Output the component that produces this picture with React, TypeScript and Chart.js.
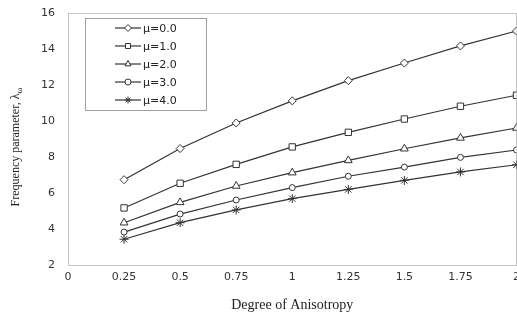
import React, { useEffect, useRef } from "react";
import { Chart, registerables } from "chart.js";

Chart.register(...registerables);

const xValues = [0.25, 0.5, 0.75, 1, 1.25, 1.5, 1.75, 2];
const xTicks = [0, 0.25, 0.5, 0.75, 1, 1.25, 1.5, 1.75, 2];
const seriesLabels = ["μ=0.0", "μ=1.0", "μ=2.0", "μ=3.0", "μ=4.0"];
const mu0 = [6.74, 8.47, 9.89, 11.12, 12.24, 13.22, 14.17, 15.0];
const mu1 = [5.17, 6.54, 7.59, 8.56, 9.37, 10.11, 10.82, 11.43];
const mu2 = [4.35, 5.48, 6.39, 7.13, 7.81, 8.46, 9.06, 9.61];
const mu3 = [3.83, 4.83, 5.61, 6.3, 6.93, 7.44, 7.98, 8.39];
const mu4 = [3.43, 4.35, 5.06, 5.69, 6.2, 6.7, 7.17, 7.57];
const xTitle = "Degree of Anisotropy";
const yTitle = "Frequency parameter, λ";
const yTitleSub = "ω";

const seriesValues = [mu0, mu1, mu2, mu3, mu4];
const pointStyles = ["rectRot", "rect", "triangle", "circle", "star"];
const pointRadii = [4, 4.5, 4.5, 3, 4.5];
const LINE = "#333333";
const CANVAS_W = 522;

function drawMarker(ctx: CanvasRenderingContext2D, style: string, x: number, y: number, r: number) {
  ctx.save();
  ctx.beginPath();
  if (style === "rectRot") {
    ctx.moveTo(x, y - r);
    ctx.lineTo(x + r, y);
    ctx.lineTo(x, y + r);
    ctx.lineTo(x - r, y);
    ctx.closePath();
  } else if (style === "rect") {
    const s = r * Math.SQRT1_2;
    ctx.rect(x - s, y - s, 2 * s, 2 * s);
  } else if (style === "triangle") {
    ctx.moveTo(x, y - r);
    ctx.lineTo(x + r * 0.866, y + r * 0.5);
    ctx.lineTo(x - r * 0.866, y + r * 0.5);
    ctx.closePath();
  } else if (style === "circle") {
    ctx.arc(x, y, r, 0, Math.PI * 2);
  }
  if (style === "star") {
    for (let i = 0; i < 4; i++) {
      const a = (i * Math.PI) / 4;
      ctx.moveTo(x - Math.cos(a) * r, y - Math.sin(a) * r);
      ctx.lineTo(x + Math.cos(a) * r, y + Math.sin(a) * r);
    }
    ctx.stroke();
  } else {
    ctx.fillStyle = "#ffffff";
    ctx.fill();
    ctx.stroke();
  }
  ctx.restore();
}

const decorPlugin = {
  id: "decor",
  beforeDatasetsDraw(chart: any) {
    const { ctx, chartArea } = chart;
    ctx.save();
    ctx.strokeStyle = "#c4c4c4";
    ctx.lineWidth = 1;
    const l = Math.round(chartArea.left) + 0.5;
    const r = Math.round(chartArea.right) - 0.5;
    const t = Math.round(chartArea.top) + 0.5;
    const b = Math.round(chartArea.bottom) + 0.5;
    ctx.strokeRect(l, t, r - l, b - t);
    ctx.restore();
  },
  afterDraw(chart: any) {
    const { ctx, chartArea } = chart;
    ctx.save();
    ctx.fillStyle = "#222222";
    ctx.font = "14px 'Liberation Serif'";
    ctx.textAlign = "center";
    ctx.textBaseline = "middle";
    ctx.fillText(xTitle, (chartArea.left + chartArea.right) / 2, 305);
    ctx.translate(15, 147);
    ctx.rotate(-Math.PI / 2);
    ctx.font = "12px 'Liberation Serif'";
    const w1 = ctx.measureText(yTitle).width;
    ctx.font = "9px 'Liberation Serif'";
    const w2 = ctx.measureText(yTitleSub).width;
    const start = -(w1 + w2) / 2;
    ctx.textAlign = "left";
    ctx.textBaseline = "alphabetic";
    ctx.font = "12px 'Liberation Serif'";
    ctx.fillText(yTitle, start, 4);
    ctx.font = "9px 'Liberation Serif'";
    ctx.fillText(yTitleSub, start + w1, 7);
    ctx.restore();

    ctx.save();
    ctx.strokeStyle = "#a0a0a0";
    ctx.lineWidth = 1;
    ctx.strokeRect(85.5, 18.5, 121, 92);
    ctx.font = "11px 'DejaVu Sans'";
    ctx.textBaseline = "middle";
    ctx.textAlign = "left";
    seriesLabels.forEach((lab, i) => {
      const y = 28 + i * 18;
      ctx.strokeStyle = LINE;
      ctx.lineWidth = 1.2;
      ctx.beginPath();
      ctx.moveTo(115, y);
      ctx.lineTo(141, y);
      ctx.stroke();
      ctx.lineWidth = 1;
      drawMarker(ctx, pointStyles[i], 128, y, Math.min(pointRadii[i], 3.5));
      ctx.fillStyle = "#222222";
      ctx.fillText(lab, 143, y + 1);
    });
    ctx.restore();
  },
};

export default function App() {
  const ref = useRef<HTMLCanvasElement | null>(null);
  useEffect(() => {
    if (!ref.current) return;
    const chart = new Chart(ref.current, {
      type: "line",
      data: {
        datasets: seriesValues.map((vals, i) => ({
          label: seriesLabels[i],
          data: xValues.map((x, j) => ({ x, y: vals[j] })),
          borderColor: LINE,
          borderWidth: 1.2,
          pointStyle: pointStyles[i] as any,
          pointRadius: pointRadii[i],
          pointBorderColor: LINE,
          pointBorderWidth: 1,
          pointBackgroundColor: "#ffffff",
          tension: 0,
          fill: false,
        })),
      },
      options: {
        animation: false,
        responsive: false,
        maintainAspectRatio: false,
        layout: { padding: { top: 13, right: 0, left: 0, bottom: 0 } },
        plugins: { legend: { display: false }, tooltip: { enabled: false } },
        scales: {
          x: {
            type: "linear",
            min: 0,
            max: 2,
            afterBuildTicks: (s: any) => {
              s.ticks = xTicks.map((v) => ({ value: v }));
            },
            afterFit: (s: any) => {
              s.height = 47;
              s.paddingLeft = 0;
              s.paddingRight = 0;
            },
            grid: { display: false, drawTicks: false, tickLength: 0 },
            border: { display: false },
            ticks: {
              padding: 6,
              maxRotation: 0,
              autoSkip: false,
              color: "#333333",
              font: { family: "'DejaVu Sans'", size: 11 },
              callback: (v: any) => String(v),
            },
          },
          y: {
            type: "linear",
            min: 2,
            max: 16,
            afterFit: (s: any) => {
              s.width = 68;
              s.paddingTop = 0;
              s.paddingBottom = 0;
            },
            grid: { display: false, drawTicks: false, tickLength: 0 },
            border: { display: false },
            ticks: {
              stepSize: 2,
              padding: 13,
              color: "#333333",
              font: { family: "'DejaVu Sans'", size: 11 },
            },
          },
        },
      },
      plugins: [decorPlugin],
    });
    return () => chart.destroy();
  }, []);
  return (
    <div style={{ position: "absolute", left: 0, top: 0, width: 517, height: 312, overflow: "hidden", background: "#fff" }}>
      <canvas ref={ref} width={CANVAS_W} height={312} style={{ width: CANVAS_W, height: 312 }} />
    </div>
  );
}
